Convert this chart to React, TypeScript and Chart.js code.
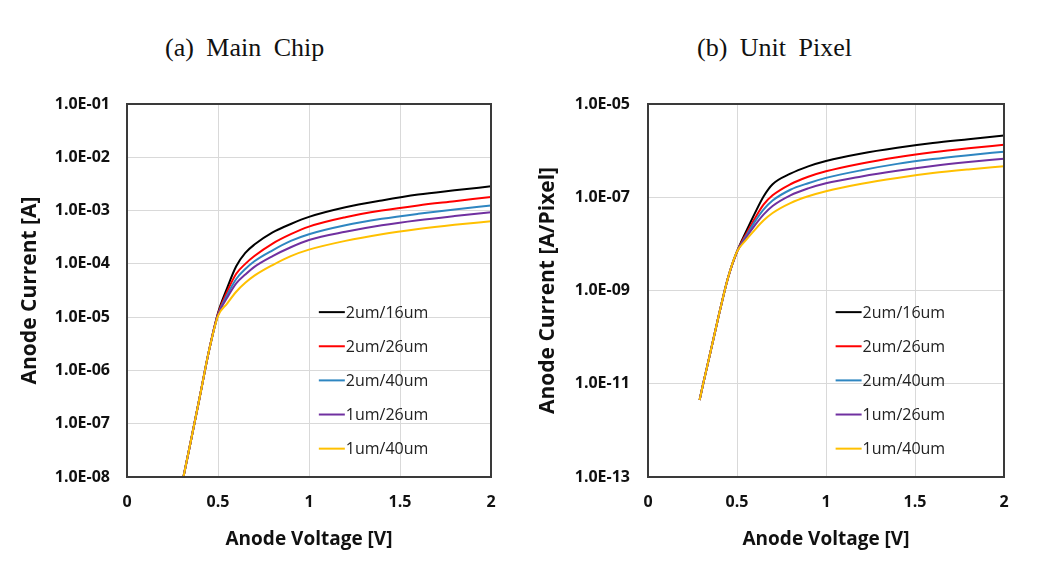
import React, { useEffect, useRef } from "react";
import { Chart, registerables } from "chart.js";

Chart.register(...registerables);

const seriesNames = ["2um/16um", "2um/26um", "2um/40um", "1um/26um", "1um/40um"];
const seriesColors = ["#000000", "#ff0000", "#2e86c1", "#7030a0", "#ffc000"];

// (a) Main Chip
const chipVolts = [0.31, 0.35, 0.4, 0.45, 0.5, 0.55, 0.6, 0.65, 0.7, 0.8, 0.9, 1.0, 1.2, 1.4, 1.6, 1.8, 2.0];
const chip2u16 = [1.0e-8, 4.6e-8, 3.2e-7, 2.3e-6, 1.2e-5, 3.5e-5, 9.0e-5, 1.6e-4, 2.3e-4, 3.9e-4, 5.6e-4, 7.6e-4, 1.15e-3, 1.55e-3, 2.0e-3, 2.4e-3, 2.85e-3];
const chip2u26 = [1.0e-8, 4.6e-8, 3.2e-7, 2.3e-6, 1.15e-5, 3.0e-5, 6.5e-5, 1.0e-4, 1.4e-4, 2.4e-4, 3.6e-4, 5.0e-4, 7.5e-4, 1.0e-3, 1.25e-3, 1.5e-3, 1.8e-3];
const chip2u40 = [1.0e-8, 4.6e-8, 3.2e-7, 2.3e-6, 1.1e-5, 2.6e-5, 5.2e-5, 8.0e-5, 1.12e-4, 1.8e-4, 2.7e-4, 3.6e-4, 5.3e-4, 7.0e-4, 8.7e-4, 1.05e-3, 1.24e-3];
const chip1u26 = [1.0e-8, 4.6e-8, 3.2e-7, 2.3e-6, 1.1e-5, 2.3e-5, 4.3e-5, 6.3e-5, 8.8e-5, 1.4e-4, 2.05e-4, 2.8e-4, 4.0e-4, 5.3e-4, 6.6e-4, 7.9e-4, 9.3e-4];
const chip1u40 = [1.0e-8, 4.6e-8, 3.2e-7, 2.3e-6, 1.05e-5, 1.8e-5, 3.0e-5, 4.4e-5, 6.0e-5, 9.5e-5, 1.4e-4, 1.85e-4, 2.7e-4, 3.6e-4, 4.5e-4, 5.4e-4, 6.3e-4];
const chipYTicks = [1e-8, 1e-7, 1e-6, 1e-5, 1e-4, 1e-3, 1e-2, 1e-1];

// (b) Unit Pixel
const pixVolts = [0.29, 0.31, 0.35, 0.4, 0.45, 0.5, 0.55, 0.6, 0.65, 0.7, 0.8, 0.9, 1.0, 1.2, 1.4, 1.6, 1.8, 2.0];
const pix2u16 = [4.5e-12, 1.0e-11, 4.6e-11, 3.2e-10, 1.9e-9, 6.8e-9, 1.8e-8, 4.5e-8, 1.05e-7, 1.9e-7, 3.2e-7, 4.6e-7, 6.0e-7, 8.7e-7, 1.15e-6, 1.45e-6, 1.75e-6, 2.1e-6];
const pix2u26 = [4.5e-12, 1.0e-11, 4.6e-11, 3.2e-10, 1.9e-9, 6.8e-9, 1.6e-8, 3.5e-8, 7.0e-8, 1.1e-7, 1.9e-7, 2.75e-7, 3.6e-7, 5.3e-7, 7.2e-7, 9.2e-7, 1.12e-6, 1.33e-6];
const pix2u40 = [4.5e-12, 1.0e-11, 4.6e-11, 3.2e-10, 1.9e-9, 6.8e-9, 1.45e-8, 3.0e-8, 5.5e-8, 8.5e-8, 1.45e-7, 2.0e-7, 2.6e-7, 3.8e-7, 5.2e-7, 6.6e-7, 8.0e-7, 9.5e-7];
const pix1u26 = [4.5e-12, 1.0e-11, 4.6e-11, 3.2e-10, 1.9e-9, 6.8e-9, 1.35e-8, 2.5e-8, 4.3e-8, 6.5e-8, 1.1e-7, 1.55e-7, 2.0e-7, 2.8e-7, 3.7e-7, 4.7e-7, 5.7e-7, 6.7e-7];
const pix1u40 = [4.5e-12, 1.0e-11, 4.6e-11, 3.2e-10, 1.9e-9, 6.8e-9, 1.2e-8, 2.0e-8, 3.2e-8, 4.6e-8, 7.5e-8, 1.05e-7, 1.35e-7, 1.95e-7, 2.6e-7, 3.3e-7, 3.95e-7, 4.6e-7];
const pixYTicks = [1e-13, 1e-11, 1e-9, 1e-7, 1e-5];

const xTicks = [0, 0.5, 1, 1.5, 2];

const SANS = "'Open Sans', 'Noto Sans', sans-serif";

function fmtSci(v: number): string {
  const e = Math.round(Math.log10(v));
  const a = Math.abs(e);
  return "1.0E" + (e < 0 ? "-" : "+") + (a < 10 ? "0" + a : String(a));
}

const boxAndLegend = {
  id: "boxAndLegend",
  afterDatasetsDraw(chart: any) {
    const { ctx, chartArea } = chart;
    const { left, top, right, bottom } = chartArea;
    const w = right - left;
    const h = bottom - top;
    ctx.save();
    ctx.font = "16px " + SANS;
    ctx.textBaseline = "middle";
    ctx.textAlign = "left";
    chart.data.datasets.forEach((ds: any, i: number) => {
      const y = top + (0.558 + i * 0.0915) * h;
      const x0 = left + 0.527 * w;
      ctx.strokeStyle = ds.borderColor;
      ctx.lineWidth = 2;
      ctx.beginPath();
      ctx.moveTo(x0, y);
      ctx.lineTo(x0 + 26, y);
      ctx.stroke();
      ctx.fillStyle = "#222";
      ctx.fillText(ds.label, x0 + 27, y + 1);
    });
    ctx.strokeStyle = "#3a3a3a";
    ctx.lineWidth = 2;
    ctx.strokeRect(left, top, w, h);
    ctx.restore();
  },
};

type Props = {
  volts: number[];
  series: number[][];
  yTicks: number[];
  yMin: number;
  yMax: number;
  yTitle: string;
  yAxisWidth: number;
  yLabelPad: number;
  yTitlePad: number;
  padRight: number;
  width: number;
};

function LogChart(p: Props) {
  const ref = useRef<HTMLCanvasElement | null>(null);
  useEffect(() => {
    if (!ref.current) return;
    const n = p.series.length;
    const datasets = p.series.map((vals, i) => ({
      label: seriesNames[i],
      data: p.volts.map((v, j) => ({ x: v, y: vals[j] })),
      borderColor: seriesColors[i],
      backgroundColor: seriesColors[i],
      borderWidth: 2,
      pointRadius: 0,
      order: n - i,
      cubicInterpolationMode: "monotone" as const,
      fill: false,
    }));
    const chart = new Chart(ref.current, {
      type: "line",
      data: { datasets },
      plugins: [boxAndLegend],
      options: {
        animation: false,
        responsive: false,
        maintainAspectRatio: false,
        layout: { padding: { top: 104, right: p.padRight, bottom: 0, left: 0 } },
        plugins: { legend: { display: false }, tooltip: { enabled: false } },
        scales: {
          x: {
            type: "linear",
            min: 0,
            max: 2,
            afterBuildTicks: (s: any) => {
              s.ticks = xTicks.map((v) => ({ value: v }));
            },
            afterFit: (s: any) => {
              s.height = 90;
            },
            grid: { color: "#d9d9d9", lineWidth: 1, drawTicks: false },
            border: { display: false },
            ticks: {
              padding: 16,
              color: "#111",
              font: { family: SANS, size: 16, weight: "bold" },
              callback: (v: any) => String(v),
            },
            title: {
              display: true,
              text: "Anode Voltage [V]",
              color: "#111",
              font: { family: SANS, size: 19, weight: "bold" },
              padding: { top: 0, bottom: 16 },
            },
          },
          y: {
            type: "logarithmic",
            min: p.yMin,
            max: p.yMax,
            afterBuildTicks: (s: any) => {
              s.ticks = p.yTicks.map((v) => ({ value: v }));
            },
            afterFit: (s: any) => {
              s.width = p.yAxisWidth;
            },
            grid: { color: "#d9d9d9", lineWidth: 1, drawTicks: false },
            border: { display: false },
            ticks: {
              padding: p.yLabelPad,
              color: "#111",
              font: { family: SANS, size: 16, weight: "bold" },
              callback: (v: any) => fmtSci(Number(v)),
            },
            title: {
              display: true,
              text: p.yTitle,
              color: "#111",
              font: { family: SANS, size: 21, weight: "bold" },
              padding: { top: p.yTitlePad, bottom: 0 },
            },
          },
        },
      } as any,
    });
    return () => chart.destroy();
  }, []);
  return <canvas ref={ref} width={p.width} height={567} style={{ width: p.width, height: 567, display: "block" }} />;
}

const titleStyle: React.CSSProperties = {
  position: "absolute",
  top: 35,
  fontFamily: "'Liberation Serif', 'DejaVu Serif', serif",
  fontSize: 26,
  lineHeight: 1,
  wordSpacing: 6,
  color: "#111",
  whiteSpace: "nowrap",
};

export default function App() {
  return (
    <div style={{ position: "absolute", left: 0, top: 0, width: 1051, height: 567, background: "#fff", overflow: "hidden" }}>
      <div style={{ ...titleStyle, left: 165 }}>(a) Main Chip</div>
      <div style={{ ...titleStyle, left: 697 }}>(b) Unit Pixel</div>
      <div style={{ position: "absolute", left: 0, top: 0 }}>
        <LogChart
          volts={chipVolts}
          series={[chip2u16, chip2u26, chip2u40, chip1u26, chip1u40]}
          yTicks={chipYTicks}
          yMin={1e-8}
          yMax={1e-1}
          yTitle="Anode Current [A]"
          yAxisWidth={127}
          yLabelPad={17}
          yTitlePad={17}
          padRight={29}
          width={520}
        />
      </div>
      <div style={{ position: "absolute", left: 520, top: 0 }}>
        <LogChart
          volts={pixVolts}
          series={[pix2u16, pix2u26, pix2u40, pix1u26, pix1u40]}
          yTicks={pixYTicks}
          yMin={1e-13}
          yMax={1e-5}
          yTitle="Anode Current [A/Pixel]"
          yAxisWidth={128}
          yLabelPad={18}
          yTitlePad={15}
          padRight={47}
          width={531}
        />
      </div>
    </div>
  );
}
